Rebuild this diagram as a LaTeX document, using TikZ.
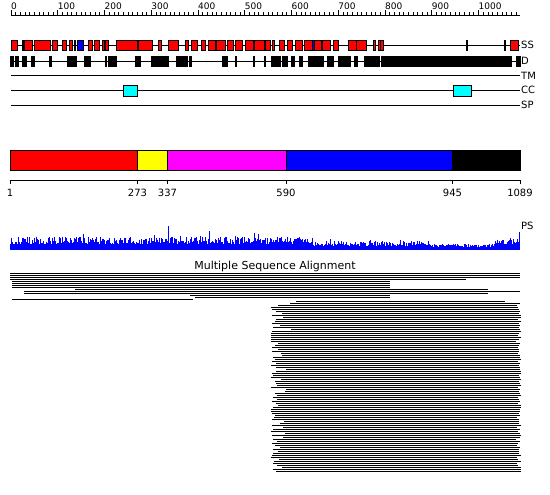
\documentclass[tikz,border=0pt]{standalone}
\usepackage{fontspec}
\setmainfont{DejaVu Sans}
\definecolor{ssred}{RGB}{255,0,0}
\definecolor{ssblue}{RGB}{0,0,255}
\definecolor{cccyan}{RGB}{0,255,255}
\definecolor{dyellow}{RGB}{255,255,0}
\definecolor{dmagenta}{RGB}{255,0,255}
\definecolor{psblue}{RGB}{0,0,255}
\begin{document}
\begin{tikzpicture}[x=1pt,y=-1pt,
  trackline/.style={line width=0.8pt},
  ssbox/.style={draw=black,fill=ssred,line width=0.8pt},
  ssbbox/.style={draw=black,fill=ssblue,line width=0.8pt},
  dbox/.style={draw=black,fill=black,line width=0.8pt},
  ccbox/.style={draw=black,fill=cccyan,line width=0.8pt},
  seg/.style={draw=black,line width=0.8pt},
  rulelab/.style={anchor=base west,inner sep=0pt,font=\fontsize{9}{10}\selectfont},
  tracklab/.style={anchor=west,inner sep=0pt,font=\fontsize{10}{11}\selectfont},
  axlab/.style={anchor=north,inner sep=0pt,font=\fontsize{10}{11}\selectfont},
  msaline/.style={fill=black}]
\useasboundingbox[fill=white] (0,0) rectangle (550,495);
% ---- ruler
\draw[trackline] (11,15) -- (520,15);
\foreach \i in {0,10,...,1080} {\draw[line width=0.7pt] ({11+\i*0.4675},15) -- ++(0,-2.5);}
\foreach \i in {0,100,...,1000} {
  \draw[line width=0.7pt] ({11+\i*0.4675},15) -- ++(0,-5);
  \node[rulelab] (r\i) at ({11+\i*0.4675},10) {\i};
}
% ---- SS track
\draw[trackline] (11,45) -- (520,45);
\foreach \a/\b in {11/17,22/23,24/32,34/50,52/57,62/66,69/72,74/75,88/92,94/99,102/104,105/108,116/137,138/152,158/161,168/178,185/188,191/197,201/205,208/215,216/225,227/233,235/242,245/253,254/264,265/270,272/274,279/284,287/292,295/302,304/312,314/321,322/330,333/338,348/356,356/366,373/375,378/380,380/383,466.5/467.5,504.5/505.5,510/518}
  {\draw[ssbox] (\a,40) rectangle (\b,50);}
\foreach \a/\b in {77/83,312/314}
  {\draw[ssbbox] (\a,40) rectangle (\b,50);}
\node[tracklab] (lss) at (521,45) {SS};
% ---- D track
\draw[trackline] (11,61) -- (520,61);
\foreach \a/\b in {10/13,15/18,22/24,25/26,31/34,49/51,67/76,84/90,105/106,108/116,135/140,151/168,176/187,189/191,222/227,235/236,253/254,264/265,271/280,282/287,291/294,299/302,308/323,327/333,338/350,354/357,364/379,381/511,516/520}
  {\draw[dbox] (\a,56) rectangle (\b,66);}
\node[tracklab] (ld) at (521,61) {D};
% ---- TM, CC, SP
\draw[trackline] (11,75.5) -- (520,75.5);
\node[tracklab] (ltm) at (521,75.5) {TM};
\draw[trackline] (11,90) -- (520,90);
\draw[ccbox] (123,85) rectangle (137,96);
\draw[ccbox] (453,85) rectangle (471,96);
\node[tracklab] (lcc) at (521,90) {CC};
\draw[trackline] (11,105) -- (520,105);
\node[tracklab] (lsp) at (521,105) {SP};
% ---- domain bar
\fill[ssred] (10,150) rectangle (137.5,170);
\fill[dyellow] (137.5,150) rectangle (167.5,170);
\fill[dmagenta] (167.5,150) rectangle (286,170);
\fill[ssblue] (286,150) rectangle (452.5,170);
\fill[black] (452.5,150) rectangle (520,170);
\foreach \a/\b in {10/137.5,137.5/167.5,167.5/286,286/452.5,452.5/520}
  {\draw[seg] (\a,150) rectangle (\b,170);}
% ---- axis
\draw[trackline] (10,180) -- (520,180);
\foreach \p/\t in {10/1,137.5/273,167.5/337,286/590,452.5/945,520/1089} {
  \draw[line width=0.7pt] (\p,180) -- (\p,184);
  \node[axlab] (a\t) at (\p,189) {\t};
}
% ---- PS profile
\pgfmathsetseed{1234}
\foreach \x in {10,...,519} {
  \pgfmathsetmacro\h{ifthenelse(\x<310, 5.5+8*rnd, ifthenelse(\x<430, 4+5*rnd, ifthenelse(\x<495, 3+3.5*rnd, 5+6*rnd)))}
  \fill[psblue] (\x,250) rectangle (\x+1,250-\h);
}
\foreach \x/\h in {83/16,154/15,168/24,209/19,254/17,258/16,312/12,519/18,130/13,180/14,235/14,60/12,100/13,290/12,200/14,280/12,40/11,120/12,225/13,270/12,330/11,370/10,400/10,510/12}
  {\fill[psblue] (\x,250) rectangle (\x+1.2,250-\h);}
\fill[psblue] (10,247) rectangle (520,250);
\node[tracklab] (lps) at (521,226) {PS};
% ---- MSA
\node[anchor=center,inner sep=0pt,font=\fontsize{11}{12}\selectfont] (msa) at (275,266) {Multiple Sequence Alignment};
\foreach \y/\s/\e in {273/10/520,275/10/520,277/10/520,279/10/466,281/12/390,283/12/390,285/12/390,287/12/390,289/75/488,291/24/520,293/24/488,295/190/390,297/195/390,299/12/193,301/296/505,303/290/520}
  {\fill[msaline] (\s,\y) rectangle (\e,\y+1);}
\pgfmathsetseed{77}
\foreach \y in {305,307,...,471} {
  \pgfmathsetmacro\s{271+22*rnd*rnd}
  \pgfmathsetmacro\e{521-7*rnd*rnd}
  \fill[msaline] (\s,\y) rectangle (\e,\y+1);
}
\end{tikzpicture}
\end{document}
